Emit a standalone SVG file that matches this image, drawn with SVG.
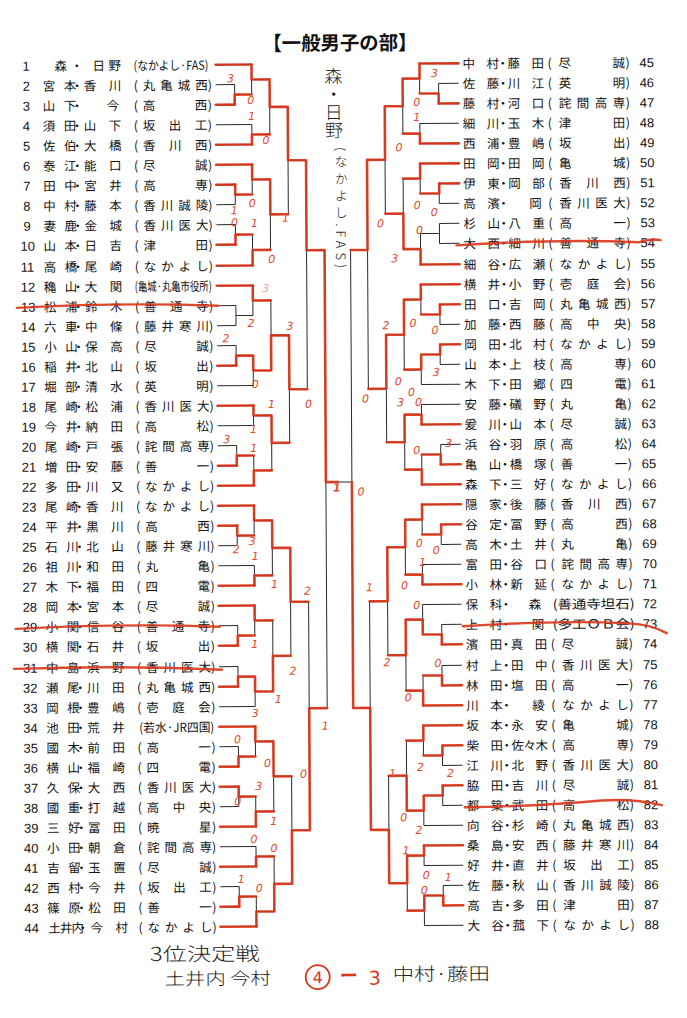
<svg xmlns="http://www.w3.org/2000/svg" width="687" height="1018" viewBox="0 0 687 1018">
<style>
.t{font-family:"Noto Sans CJK JP","Noto Sans CJK SC",sans-serif;font-size:12.5px;fill:#141414}
.n{font-family:"Liberation Sans",Arial,sans-serif;font-size:13px;fill:#141414}
.bk{fill:none;stroke:#2a2a2a;stroke-width:1}
.rd{fill:none;stroke:#d9361b;stroke-width:2.6;stroke-linecap:round;stroke-linejoin:round;opacity:.92}
.st{fill:none;stroke:#d9361b;stroke-width:2.4;stroke-linecap:round;opacity:.9}
.sc{font-family:"DejaVu Sans",sans-serif;font-style:italic;font-size:11px;fill:#e04a2c;text-anchor:middle;dominant-baseline:central}
.hw{font-family:"Noto Sans CJK JP",sans-serif;font-weight:300;fill:#1e1e1e}
</style>
<rect width="687" height="1018" fill="#fff"/>
<g transform="rotate(-0.33 343 500)">
<text x="265" y="50" font-family="Noto Sans CJK JP, sans-serif" font-weight="bold" font-size="19.5" textLength="155" lengthAdjust="spacingAndGlyphs" fill="#111">【一般男子の部】</text>

<g id="connectors">
<path class="bk" d="M218 64H254M218 84H237M218 104H237M218 124H254M218 144H254M218 164H254M218 184H237M218 204H237M218 224H237M218 244H237M218 265H254M218 285H254M218 305H237M218 325H237M218 345H237M218 365H237M218 385H254M218 405H254M218 425H254M218 445H237M218 465H237M218 485H254M218 505H254M218 525H237M218 545H237M218 565H254M218 585H254M218 605H254M218 625H237M218 645H237M218 666H237M218 686H237M218 706H254M218 726H254M218 746H237M218 766H237M218 786H237M218 806H237M218 826H254M218 846H254M218 866H254M218 886H237M218 906H237M218 926H254"/>
<path class="bk" d="M237 84V104M237 94H254M254 64V94M254 79H272M254 124V144M254 134H272M272 79V134M272 106.5H290M237 184V204M237 194H254M254 164V194M254 179H272M237 224V244M237 234H254M254 234V265M254 249.5H272M272 179V249.5M272 214H290M290 106.5V214M290 160H308M237 305V325M237 315H254M254 285V315M254 300H272M237 345V365M237 355H254M254 355V385M254 370H272M272 300V370M272 335H290M254 405V425M254 415H272M237 445V465M237 455H254M254 455V485M254 470H272M272 415V470M272 442.5H290M290 335V442.5M290 389H308M308 160V389M308 250H326M237 525V545M237 535H254M254 505V535M254 520H272M254 565V585M254 575H272M272 520V575M272 547.5H290M237 625V645M237 635H254M254 605V635M254 620H272M237 666V686M237 676H254M254 676V706M254 691H272M272 620V691M272 655.5H290M290 547.5V655.5M290 601.5H308M237 746V766M237 756H254M254 726V756M254 741H272M237 786V806M237 796H254M254 796V826M254 811H272M272 741V811M272 776H290M254 846V866M254 856H272M237 886V906M237 896H254M254 896V926M254 911H272M272 856V911M272 883.5H290M290 776V883.5M290 830H308M308 601.5V830M308 708H326M326 250V708M326 482H352"/>
<path class="bk" d="M461 64H422M461 84H441M461 104H441M461 124H422M461 144H422M461 164H422M461 184H441M461 204H441M461 224H441M461 244H441M461 265H422M461 285H422M461 305H441M461 325H441M461 345H441M461 365H441M461 385H422M461 405H422M461 425H422M461 445H441M461 465H441M461 485H422M461 505H422M461 525H441M461 545H441M461 565H422M461 585H422M461 605H422M461 625H441M461 645H441M461 666H441M461 686H441M461 706H422M461 726H422M461 746H441M461 766H441M461 786H441M461 806H441M461 826H422M461 846H422M461 866H422M461 886H441M461 906H441M461 926H422"/>
<path class="bk" d="M441 84V104M441 94H422M422 64V94M422 79H405M422 124V144M422 134H405M405 79V134M405 106.5H387M441 184V204M441 194H422M422 164V194M422 179H405M441 224V244M441 234H422M422 234V265M422 249.5H405M405 179V249.5M405 214H387M387 106.5V214M387 160H369M441 305V325M441 315H422M422 285V315M422 300H405M441 345V365M441 355H422M422 355V385M422 370H405M405 300V370M405 335H387M422 405V425M422 415H405M441 445V465M441 455H422M422 455V485M422 470H405M405 415V470M405 442.5H387M387 335V442.5M387 389H369M369 160V389M369 250H352M441 525V545M441 535H422M422 505V535M422 520H405M422 565V585M422 575H405M405 520V575M405 547.5H387M441 625V645M441 635H422M422 605V635M422 620H405M441 666V686M441 676H422M422 676V706M422 691H405M405 620V691M405 655.5H387M387 547.5V655.5M387 601.5H369M441 746V766M441 756H422M422 726V756M422 741H405M441 786V806M441 796H422M422 796V826M422 811H405M405 741V811M405 776H387M422 846V866M422 856H405M441 886V906M441 896H422M422 896V926M422 911H405M405 856V911M405 883.5H387M387 776V883.5M387 830H369M369 601.5V830M369 708H352M352 250V708"/>
<path class="rd" d="M218 64H254M218 104H237M218 144H254M218 164H254M218 184H237M218 244H237M218 265H254M218 285H254M218 365H237M218 405H254M218 465H237M218 485H254M218 505H254M218 525H237M218 585H254M218 605H254M218 645H237M218 686H237M218 726H254M218 766H237M218 786H237M218 826H254M218 866H254M218 906H237M218 926H254"/>
<path class="rd" d="M237 104V94H254M254 64V79H272M254 144V134H272M272 79V106.5H290M237 184V194H254M254 164V179H272M237 244V234H254M254 265V249.5H272M272 179V214H290M290 106.5V160H308M254 285V300H272M237 365V355H254M254 355V370H272M272 370V335H290M254 405V415H272M237 465V455H254M254 485V470H272M272 415V442.5H290M290 335V389H308M308 160V250H326M237 525V535H254M254 505V520H272M254 585V575H272M272 520V547.5H290M237 645V635H254M254 605V620H272M237 686V676H254M254 676V691H272M272 691V655.5H290M290 547.5V601.5H308M237 766V756H254M254 726V741H272M237 786V796H254M254 826V811H272M272 741V776H290M254 866V856H272M237 906V896H254M254 926V911H272M272 911V883.5H290M290 883.5V830H308M308 830V708H326M326 250V482H338"/>
<path class="rd" d="M461 64H422M461 104H441M461 144H422M461 164H422M461 184H441M461 265H422M461 285H422M461 305H441M461 345H441M461 425H422M461 465H441M461 485H422M461 505H422M461 525H441M461 585H422M461 645H441M461 686H441M461 706H422M461 726H422M461 746H441M461 786H441M461 846H422M461 906H441"/>
<path class="rd" d="M441 104V94H422M422 64V79H405M422 144V134H405M405 79V106.5H387M441 184V194H422M422 164V179H405M422 265V249.5H405M405 249.5V214H387M387 106.5V160H369M441 305V315H422M422 285V300H405M441 345V355H422M422 355V370H405M405 300V335H387M422 425V415H405M441 465V455H422M422 485V470H405M405 415V442.5H387M387 335V389H369M369 160V250H352M441 525V535H422M422 505V520H405M422 585V575H405M405 520V547.5H387M441 645V635H422M422 635V620H405M441 686V676H422M422 706V691H405M405 620V655.5H387M387 547.5V601.5H369M441 746V756H422M422 726V741H405M441 786V796H422M422 796V811H405M405 811V776H387M422 846V856H405M441 906V896H422M422 896V911H405M405 856V883.5H387M387 883.5V830H369M369 830V708H352M352 708V482"/>
</g>

<g id="p1"><text class="n" x="25" y="69">1</text><text class="t" x="57 73 95 111" y="69">森・日野</text><text class="t" x="136" y="69" font-size="12" textLength="75" lengthAdjust="spacingAndGlyphs">(なかよし·FAS)</text></g>
<g id="p2"><text class="n" x="25" y="89">2</text><text class="t" x="45 66 73 86 111 136 145 162.5 180 197.5 210" y="89">宮本・香川(丸亀城西)</text></g>
<g id="p3"><text class="n" x="25" y="109">3</text><text class="t" x="45 66 73 109 136 145 197 210" y="109">山下・今(高西)</text></g>
<g id="p4"><text class="n" x="25" y="129">4</text><text class="t" x="45 66 73 86 111 136 145 171 197 210" y="129">須田・山下(坂出工)</text></g>
<g id="p5"><text class="n" x="25" y="149">5</text><text class="t" x="45 66 73 86 111 136 145 171 197 210" y="149">佐伯・大橋(香川西)</text></g>
<g id="p6"><text class="n" x="25" y="169">6</text><text class="t" x="45 66 73 86 111 136 145 197 210" y="169">泰江・能口(尽誠)</text></g>
<g id="p7"><text class="n" x="25" y="189">7</text><text class="t" x="45 66 73 86 111 136 145 197 210" y="189">田中・宮井(高専)</text></g>
<g id="p8"><text class="n" x="25" y="209">8</text><text class="t" x="45 66 73 86 111 136 145 162.5 180 197.5 210" y="209">中村・藤本(香川誠陵)</text></g>
<g id="p9"><text class="n" x="25" y="229">9</text><text class="t" x="45 66 73 86 111 136 145 162.5 180 197.5 210" y="229">妻鹿・金城(香川医大)</text></g>
<g id="p10"><text class="n" x="22" y="249">10</text><text class="t" x="45 66 73 86 111 136 145 197 210" y="249">山本・日吉(津田)</text></g>
<g id="p11"><text class="n" x="22" y="270">11</text><text class="t" x="45 66 73 86 111 136 145 162.5 180 197.5 210" y="270">高橋・尾崎(なかよし)</text></g>
<g id="p12"><text class="n" x="22" y="290">12</text><text class="t" x="45 66 73 86 111" y="290">穐山・大関</text><text class="t" x="136" y="290" font-size="11" textLength="77" lengthAdjust="spacingAndGlyphs">(亀城·丸亀市役所)</text></g>
<g id="p13"><text class="n" x="22" y="310">13</text><text class="t" x="45 66 73 86 111 136 145 171 197 210" y="310">松浦・鈴木(善通寺)</text><path class="st" d="M18 306 Q120 301 219 305"/></g>
<g id="p14"><text class="n" x="22" y="330">14</text><text class="t" x="45 66 73 86 111 136 145 162.5 180 197.5 210" y="330">六車・中條(藤井寒川)</text></g>
<g id="p15"><text class="n" x="22" y="350">15</text><text class="t" x="45 66 73 86 111 136 145 197 210" y="350">小山・保高(尽誠)</text></g>
<g id="p16"><text class="n" x="22" y="370">16</text><text class="t" x="45 66 73 86 111 136 145 197 210" y="370">稲井・北山(坂出)</text></g>
<g id="p17"><text class="n" x="22" y="390">17</text><text class="t" x="45 66 73 86 111 136 145 197 210" y="390">堀部・清水(英明)</text></g>
<g id="p18"><text class="n" x="22" y="410">18</text><text class="t" x="45 66 73 86 111 136 145 162.5 180 197.5 210" y="410">尾崎・松浦(香川医大)</text></g>
<g id="p19"><text class="n" x="22" y="430">19</text><text class="t" x="45 66 73 86 111 136 145 197 210" y="430">今井・納田(高松)</text></g>
<g id="p20"><text class="n" x="22" y="450">20</text><text class="t" x="45 66 73 86 111 136 145 162.5 180 197.5 210" y="450">尾崎・戸張(詫間高専)</text></g>
<g id="p21"><text class="n" x="22" y="470">21</text><text class="t" x="45 66 73 86 111 136 145 197 210" y="470">増田・安藤(善一)</text></g>
<g id="p22"><text class="n" x="22" y="490">22</text><text class="t" x="45 66 73 86 111 136 145 162.5 180 197.5 210" y="490">多田・川又(なかよし)</text></g>
<g id="p23"><text class="n" x="22" y="510">23</text><text class="t" x="45 66 73 86 111 136 145 162.5 180 197.5 210" y="510">尾崎・香川(なかよし)</text></g>
<g id="p24"><text class="n" x="22" y="530">24</text><text class="t" x="45 66 73 86 111 136 145 197 210" y="530">平井・黒川(高西)</text></g>
<g id="p25"><text class="n" x="22" y="550">25</text><text class="t" x="45 66 73 86 111 136 145 162.5 180 197.5 210" y="550">石川・北山(藤井寒川)</text></g>
<g id="p26"><text class="n" x="22" y="570">26</text><text class="t" x="45 66 73 86 111 136 145 197 210" y="570">祖川・和田(丸亀)</text></g>
<g id="p27"><text class="n" x="22" y="590">27</text><text class="t" x="45 66 73 86 111 136 145 197 210" y="590">木下・福田(四電)</text></g>
<g id="p28"><text class="n" x="22" y="610">28</text><text class="t" x="45 66 73 86 111 136 145 197 210" y="610">岡本・宮本(尽誠)</text></g>
<g id="p29"><text class="n" x="22" y="630">29</text><text class="t" x="45 66 73 86 111 136 145 171 197 210" y="630">小関・信谷(善通寺)</text><path class="st" d="M15 627 Q120 622 219 626"/></g>
<g id="p30"><text class="n" x="22" y="650">30</text><text class="t" x="45 66 73 86 111 136 145 197 210" y="650">横関・石井(坂出)</text></g>
<g id="p31"><text class="n" x="22" y="671">31</text><text class="t" x="45 66 73 86 111 136 145 162.5 180 197.5 210" y="671">中島・浜野(香川医大)</text><path class="st" d="M13 667 Q120 664 221 669"/></g>
<g id="p32"><text class="n" x="22" y="691">32</text><text class="t" x="45 66 73 86 111 136 145 162.5 180 197.5 210" y="691">瀬尾・川田(丸亀城西)</text></g>
<g id="p33"><text class="n" x="22" y="711">33</text><text class="t" x="45 66 73 86 111 136 145 171 197 210" y="711">岡根・豊嶋(壱庭会)</text></g>
<g id="p34"><text class="n" x="22" y="731">34</text><text class="t" x="45 66 73 86 111" y="731">池田・荒井</text><text class="t" x="138" y="731" font-size="12" textLength="75" lengthAdjust="spacingAndGlyphs">(若水·JR四国)</text></g>
<g id="p35"><text class="n" x="22" y="751">35</text><text class="t" x="45 66 73 86 111 136 145 197 210" y="751">國木・前田(高一)</text></g>
<g id="p36"><text class="n" x="22" y="771">36</text><text class="t" x="45 66 73 86 111 136 145 197 210" y="771">横山・福崎(四電)</text></g>
<g id="p37"><text class="n" x="22" y="791">37</text><text class="t" x="45 66 73 86 111 136 145 162.5 180 197.5 210" y="791">久保・大西(香川医大)</text></g>
<g id="p38"><text class="n" x="22" y="811">38</text><text class="t" x="45 66 73 86 111 136 145 171 197 210" y="811">國重・打越(高中央)</text></g>
<g id="p39"><text class="n" x="22" y="831">39</text><text class="t" x="45 66 73 86 111 136 145 197 210" y="831">三好・冨田(暁星)</text></g>
<g id="p40"><text class="n" x="22" y="851">40</text><text class="t" x="45 66 73 86 111 136 145 162.5 180 197.5 210" y="851">小田・朝倉(詫間高専)</text></g>
<g id="p41"><text class="n" x="22" y="871">41</text><text class="t" x="45 66 73 86 111 136 145 197 210" y="871">吉留・玉置(尽誠)</text></g>
<g id="p42"><text class="n" x="22" y="891">42</text><text class="t" x="45 66 73 86 111 136 145 171 197 210" y="891">西村・今井(坂出工)</text></g>
<g id="p43"><text class="n" x="22" y="911">43</text><text class="t" x="45 66 73 86 111 136 145 197 210" y="911">篠原・松田(善一)</text></g>
<g id="p44"><text class="n" x="22" y="931">44</text><text class="t" x="46 57.5 69 74 88 113 136 145 162.5 180 197.5 210" y="931">土井内・今村(なかよし)</text></g>

<g id="p45"><text class="t" x="465 489 499 510 534 550 561 615 628" y="69">中村・藤田(尽誠)</text><text class="n" x="642" y="69">45</text></g>
<g id="p46"><text class="t" x="465 489 499 510 534 550 561 615 628" y="89">佐藤・川江(英明)</text><text class="n" x="642" y="89">46</text></g>
<g id="p47"><text class="t" x="465 489 499 510 534 550 561 579 597 615 628" y="109">藤村・河口(詫間高専)</text><text class="n" x="642" y="109">47</text></g>
<g id="p48"><text class="t" x="465 489 499 510 534 550 561 615 628" y="129">細川・玉木(津田)</text><text class="n" x="642" y="129">48</text></g>
<g id="p49"><text class="t" x="465 489 499 510 534 550 561 615 628" y="149">西浦・豊嶋(坂出)</text><text class="n" x="642" y="149">49</text></g>
<g id="p50"><text class="t" x="465 489 499 510 534 550 561 615 628" y="169">田岡・田岡(亀城)</text><text class="n" x="642" y="169">50</text></g>
<g id="p51"><text class="t" x="465 489 499 510 534 550 561 588 615 628" y="189">伊東・岡部(香川西)</text><text class="n" x="642" y="189">51</text></g>
<g id="p52"><text class="t" x="465 489 499 531 550 561 579 597 615 628" y="209">高濱・岡(香川医大)</text><text class="n" x="642" y="209">52</text></g>
<g id="p53"><text class="t" x="465 489 499 510 534 550 561 615 628" y="229">杉山・八重(高一)</text><text class="n" x="642" y="229">53</text></g>
<g id="p54"><text class="t" x="465 489 499 510 534 550 561 588 615 628" y="249">大西・細川(善通寺)</text><text class="n" x="642" y="249">54</text><path class="st" d="M458 246 Q560 240 640 244 Q652 240 662 242"/></g>
<g id="p55"><text class="t" x="465 489 499 510 534 550 561 579 597 615 628" y="270">細谷・広瀬(なかよし)</text><text class="n" x="642" y="270">55</text></g>
<g id="p56"><text class="t" x="465 489 499 510 534 550 561 588 615 628" y="290">横井・小野(壱庭会)</text><text class="n" x="642" y="290">56</text></g>
<g id="p57"><text class="t" x="465 489 499 510 534 550 561 579 597 615 628" y="310">田口・吉岡(丸亀城西)</text><text class="n" x="642" y="310">57</text></g>
<g id="p58"><text class="t" x="465 489 499 510 534 550 561 588 615 628" y="330">加藤・西藤(高中央)</text><text class="n" x="642" y="330">58</text></g>
<g id="p59"><text class="t" x="465 489 499 510 534 550 561 579 597 615 628" y="350">岡田・北村(なかよし)</text><text class="n" x="642" y="350">59</text></g>
<g id="p60"><text class="t" x="465 489 499 510 534 550 561 615 628" y="370">山本・上枝(高専)</text><text class="n" x="642" y="370">60</text></g>
<g id="p61"><text class="t" x="465 489 499 510 534 550 561 615 628" y="390">木下・田郷(四電)</text><text class="n" x="642" y="390">61</text></g>
<g id="p62"><text class="t" x="465 489 499 510 534 550 561 615 628" y="410">安藤・礒野(丸亀)</text><text class="n" x="642" y="410">62</text></g>
<g id="p63"><text class="t" x="465 489 499 510 534 550 561 615 628" y="430">爰川・山本(尽誠)</text><text class="n" x="642" y="430">63</text></g>
<g id="p64"><text class="t" x="465 489 499 510 534 550 561 615 628" y="450">浜谷・羽原(高松)</text><text class="n" x="642" y="450">64</text></g>
<g id="p65"><text class="t" x="465 489 499 510 534 550 561 615 628" y="470">亀山・橋塚(善一)</text><text class="n" x="642" y="470">65</text></g>
<g id="p66"><text class="t" x="465 489 499 510 534 550 561 579 597 615 628" y="490">森下・三好(なかよし)</text><text class="n" x="642" y="490">66</text></g>
<g id="p67"><text class="t" x="465 489 499 510 534 550 561 588 615 628" y="510">隠家・後藤(香川西)</text><text class="n" x="642" y="510">67</text></g>
<g id="p68"><text class="t" x="465 489 499 510 534 550 561 615 628" y="530">谷定・冨野(高西)</text><text class="n" x="642" y="530">68</text></g>
<g id="p69"><text class="t" x="465 489 499 510 534 550 561 615 628" y="550">高木・土井(丸亀)</text><text class="n" x="642" y="550">69</text></g>
<g id="p70"><text class="t" x="465 489 499 510 534 550 561 579 597 615 628" y="570">富田・谷口(詫間高専)</text><text class="n" x="642" y="570">70</text></g>
<g id="p71"><text class="t" x="465 489 499 510 534 550 561 579 597 615 628" y="590">小林・新延(なかよし)</text><text class="n" x="642" y="590">71</text></g>
<g id="p72"><text class="t" x="465 489 499 528" y="610">保科・森</text><text class="t" x="552" y="610" font-size="12" textLength="82" lengthAdjust="spacingAndGlyphs">(善通寺坦石)</text><text class="n" x="642" y="610">72</text></g>
<g id="p73"><text class="t" x="465 489 499 531" y="630">上村・関</text><text class="t" x="552" y="630" font-size="12" textLength="82" lengthAdjust="spacingAndGlyphs">(多工ＯＢ会)</text><text class="n" x="642" y="630">73</text><path class="st" d="M462 627 Q560 621 628 625 Q650 626 666 635"/></g>
<g id="p74"><text class="t" x="465 489 499 510 534 550 561 615 628" y="650">濱田・真田(尽誠)</text><text class="n" x="642" y="650">74</text></g>
<g id="p75"><text class="t" x="465 489 499 510 534 550 561 579 597 615 628" y="671">村上・田中(香川医大)</text><text class="n" x="642" y="671">75</text></g>
<g id="p76"><text class="t" x="465 489 499 510 534 550 561 615 628" y="691">林田・塩田(高一)</text><text class="n" x="642" y="691">76</text></g>
<g id="p77"><text class="t" x="465 489 499 531 550 561 579 597 615 628" y="711">川本・綾(なかよし)</text><text class="n" x="642" y="711">77</text></g>
<g id="p78"><text class="t" x="465 489 499 510 534 550 561 615 628" y="731">坂本・永安(亀城)</text><text class="n" x="642" y="731">78</text></g>
<g id="p79"><text class="t" x="465 489 499 510 522 534 550 561 615 628" y="751">柴田・佐々木(高専)</text><text class="n" x="642" y="751">79</text></g>
<g id="p80"><text class="t" x="465 489 499 510 534 550 561 579 597 615 628" y="771">江川・北野(香川医大)</text><text class="n" x="642" y="771">80</text></g>
<g id="p81"><text class="t" x="465 489 499 510 534 550 561 615 628" y="791">脇田・吉川(尽誠)</text><text class="n" x="642" y="791">81</text></g>
<g id="p82"><text class="t" x="465 489 499 510 534 550 561 615 628" y="811">都築・武田(高松)</text><text class="n" x="642" y="811">82</text><path class="st" d="M463 808 Q545 807 600 802 Q632 800 660 807"/></g>
<g id="p83"><text class="t" x="465 489 499 510 534 550 561 579 597 615 628" y="831">向谷・杉崎(丸亀城西)</text><text class="n" x="642" y="831">83</text></g>
<g id="p84"><text class="t" x="465 489 499 510 534 550 561 579 597 615 628" y="851">桑島・安西(藤井寒川)</text><text class="n" x="642" y="851">84</text></g>
<g id="p85"><text class="t" x="465 489 499 510 534 550 561 588 615 628" y="871">好井・直井(坂出工)</text><text class="n" x="642" y="871">85</text></g>
<g id="p86"><text class="t" x="465 489 499 510 534 550 561 579 597 615 628" y="891">佐藤・秋山(香川誠陵)</text><text class="n" x="642" y="891">86</text></g>
<g id="p87"><text class="t" x="465 489 499 510 534 550 561 615 628" y="911">高吉・多田(津田)</text><text class="n" x="642" y="911">87</text></g>
<g id="p88"><text class="t" x="465 489 499 510 534 550 561 579 597 615 628" y="931">大谷・菰下(なかよし)</text><text class="n" x="642" y="931">88</text></g>

<g id="scores">
<text class="sc" x="233" y="78">3</text><text class="sc" x="253" y="100">0</text><text class="sc" x="254" y="116">1</text><text class="sc" x="268" y="140">0</text>
<text class="sc" x="254" y="203">0</text><text class="sc" x="236" y="210">1</text><text class="sc" x="236" y="222">0</text><text class="sc" x="256" y="223">1</text><text class="sc" x="287" y="218">1</text><text class="sc" x="273" y="259">0</text>
<text class="sc" x="267" y="288" opacity=".5">3</text><text class="sc" x="291" y="326">3</text><text class="sc" x="252" y="323">2</text><text class="sc" x="227" y="338">2</text><text class="sc" x="256" y="384">0</text>
<text class="sc" x="309" y="404" font-size="16">0</text><text class="sc" x="272" y="404">1</text><text class="sc" x="254" y="429">1</text><text class="sc" x="227" y="439">3</text><text class="sc" x="254" y="448">1</text>
<text class="sc" x="236" y="549">2</text><text class="sc" x="252" y="541">3</text><text class="sc" x="255" y="556">1</text><text class="sc" x="274" y="584">1</text><text class="sc" x="307" y="591">2</text>
<text class="sc" x="254" y="644">1</text><text class="sc" x="292" y="671">2</text><text class="sc" x="277" y="699">1</text><text class="sc" x="254" y="713">3</text><text class="sc" x="324" y="726">1</text>
<text class="sc" x="236" y="739">0</text><text class="sc" x="266" y="763">0</text><text class="sc" x="302" y="774">0</text><text class="sc" x="257" y="786">3</text><text class="sc" x="236" y="801">0</text>
<text class="sc" x="272" y="821">1</text><text class="sc" x="252" y="839">0</text><text class="sc" x="272" y="848">0</text><text class="sc" x="239" y="879">1</text><text class="sc" x="257" y="888">0</text>
<text class="sc" x="437" y="74">3</text><text class="sc" x="419" y="103">0</text><text class="sc" x="419" y="118">1</text><text class="sc" x="401" y="148">0</text>
<text class="sc" x="419" y="206">0</text><text class="sc" x="436" y="213">0</text><text class="sc" x="382" y="224">0</text><text class="sc" x="421" y="231" font-size="15">0</text><text class="sc" x="396" y="259">3</text>
<text class="sc" x="387" y="326">2</text><text class="sc" x="414" y="324">0</text><text class="sc" x="436" y="331">0</text><text class="sc" x="437" y="373">3</text><text class="sc" x="399" y="382" font-size="15">0</text>
<text class="sc" x="412" y="393">0</text><text class="sc" x="366" y="399">0</text><text class="sc" x="419" y="403">0</text><text class="sc" x="401" y="403">3</text><text class="sc" x="449" y="444">3</text><text class="sc" x="417" y="451">0</text>
<text class="sc" x="419" y="544">0</text><text class="sc" x="436" y="551">0</text><text class="sc" x="422" y="563">1</text><text class="sc" x="369" y="588">1</text><text class="sc" x="404" y="586">0</text><text class="sc" x="416" y="606">0</text>
<text class="sc" x="386" y="663">2</text><text class="sc" x="437" y="664">0</text><text class="sc" x="407" y="698">0</text><text class="sc" x="391" y="774">1</text><text class="sc" x="419" y="768">2</text><text class="sc" x="449" y="774">2</text>
<text class="sc" x="402" y="818">0</text><text class="sc" x="417" y="831">2</text><text class="sc" x="404" y="851">1</text><text class="sc" x="424" y="876">0</text><text class="sc" x="422" y="891">0</text><text class="sc" x="446" y="878">1</text>
<text class="sc" x="337" y="488" font-size="19" font-weight="bold">1</text><text class="sc" x="361" y="492" font-size="14">0</text>
</g>

<g id="winner-note" class="hw">
<text x="336" y="67" font-size="18" style="writing-mode:vertical-rl">森・日野<tspan x="343" y="147" font-size="13" letter-spacing="4">(なかよし.FAS)</tspan></text>
</g>

<g id="third-place">
<text class="hw" x="147" y="960" font-size="19" textLength="110" lengthAdjust="spacingAndGlyphs">3位決定戦</text>
<text class="hw" x="162" y="984" font-size="17" textLength="106" lengthAdjust="spacingAndGlyphs">土井内 今村</text>
<circle cx="315" cy="977" r="12" fill="none" stroke="#d9361b" stroke-width="1.8"/>
<text x="315" y="983" font-family="DejaVu Sans, sans-serif" font-size="16" fill="#d9361b" text-anchor="middle">4</text>
<text x="337" y="982" font-family="Noto Sans CJK JP, sans-serif" font-weight="bold" font-size="18" fill="#d9361b">ー</text>
<text x="366" y="985" font-family="DejaVu Sans, sans-serif" font-size="19" fill="#d9361b">3</text>
<text class="hw" x="390" y="981" font-size="18" textLength="97" lengthAdjust="spacingAndGlyphs">中村·藤田</text>
</g>
</g>
</svg>
